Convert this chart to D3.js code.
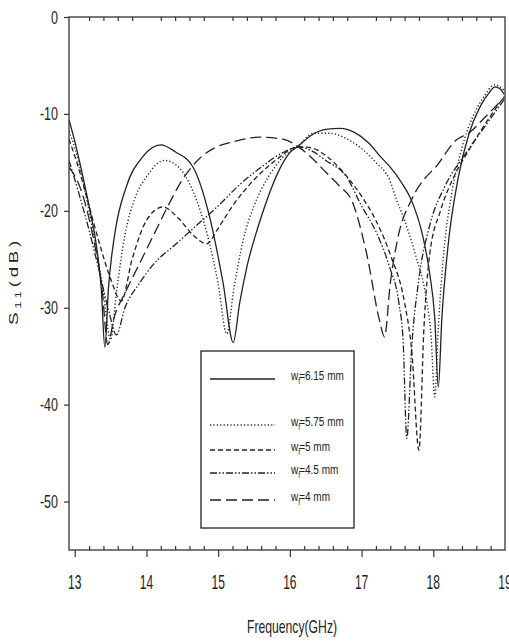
<!DOCTYPE html>
<html>
<head>
<meta charset="utf-8">
<script src="https://cdn.jsdelivr.net/npm/d3@7"></script>
<style>
  body { margin: 0; background: #fff; }
  text { font-family: "Liberation Sans", Arial, sans-serif; fill: #222; }
</style>
</head>
<body>
<div id="chart"></div>
<script>
// S11 curves, one frequency list + one dB list per curve
const freq615 = [12.92, 13.0, 13.1, 13.2, 13.3, 13.37, 13.42, 13.47, 13.56, 13.72, 13.95, 14.2, 14.4, 14.65, 14.88, 15.07, 15.21, 15.3, 15.4, 15.55, 15.68, 15.85, 16.0, 16.12, 16.3, 16.5, 16.7, 16.9, 17.1, 17.25, 17.4, 17.55, 17.7, 17.85, 17.95, 18.02, 18.07, 18.12, 18.2, 18.35, 18.5, 18.65, 18.78, 18.86, 18.93, 18.99];
const s11_615 = [-10.6, -12.8, -16.0, -19.5, -23.5, -28.0, -34.1, -28.0, -22.3, -17.5, -14.4, -13.2, -13.9, -15.5, -20.6, -27.5, -33.6, -29.5, -25.8, -21.8, -18.9, -15.8, -14.0, -13.3, -12.2, -11.6, -11.5, -11.9, -13.0, -14.3, -15.5, -17.0, -19.0, -22.5, -26.5, -31.0, -38.2, -31.0, -24.0, -16.5, -12.0, -9.3, -7.8, -7.2, -7.4, -8.0];

const freq575 = [12.92, 13.0, 13.1, 13.2, 13.3, 13.4, 13.5, 13.58, 13.7, 13.85, 14.0, 14.25, 14.45, 14.65, 14.85, 15.0, 15.12, 15.22, 15.35, 15.5, 15.7, 15.9, 16.12, 16.33, 16.56, 16.8, 17.02, 17.2, 17.39, 17.49, 17.6, 17.75, 17.9, 17.97, 18.02, 18.07, 18.15, 18.25, 18.4, 18.55, 18.7, 18.85, 18.93, 18.99];
const s11_575 = [-11.8, -13.5, -16.5, -20.0, -24.0, -28.5, -33.3, -28.5, -22.5, -18.5, -16.5, -14.8, -15.5, -18.0, -22.5, -27.5, -32.7, -28.0, -23.0, -19.5, -16.5, -14.5, -13.3, -12.0, -12.0, -12.6, -13.7, -15.0, -16.8, -18.9, -21.0, -24.5, -29.0, -33.0, -39.2, -32.0, -24.0, -18.5, -13.5, -10.3, -8.3, -7.0, -7.2, -7.6];

const freq5 = [12.92, 13.05, 13.2, 13.35, 13.5, 13.65, 13.8, 14.0, 14.23, 14.45, 14.65, 14.84, 15.0, 15.2, 15.5, 15.8, 16.12, 16.3, 16.5, 16.8, 17.0, 17.2, 17.4, 17.6, 17.7, 17.8, 17.87, 17.95, 18.1, 18.3, 18.5, 18.7, 18.99];
const s11_5 = [-12.6, -15.5, -19.5, -23.5, -27.0, -29.3, -25.0, -21.0, -19.6, -20.8, -22.5, -23.4, -21.8, -19.5, -16.8, -14.8, -13.4, -13.5, -14.3, -16.5, -18.5, -21.0, -24.5, -29.5, -34.5, -44.7, -32.0, -24.5, -20.0, -16.3, -13.7, -11.3, -8.2];

const freq45 = [12.92, 13.05, 13.2, 13.35, 13.48, 13.58, 13.7, 13.9, 14.1, 14.4, 14.7, 15.0, 15.3, 15.6, 15.9, 16.12, 16.3, 16.5, 16.79, 17.0, 17.21, 17.39, 17.52, 17.58, 17.63, 17.7, 17.8, 17.95, 18.16, 18.42, 18.7, 18.99];
const s11_45 = [-14.8, -18.0, -22.0, -26.5, -30.5, -32.8, -30.0, -27.5, -25.5, -23.5, -21.5, -19.5, -17.3, -15.5, -14.0, -13.4, -13.8, -14.8, -16.5, -19.5, -22.3, -25.8, -29.5, -33.5, -43.5, -34.0, -27.0, -21.5, -17.5, -14.4, -11.5, -8.5];

const freq4 = [12.92, 13.09, 13.25, 13.38, 13.46, 13.55, 13.7, 13.9, 14.1, 14.3, 14.5, 14.74, 14.95, 15.2, 15.58, 15.9, 16.12, 16.3, 16.5, 16.7, 16.86, 17.07, 17.25, 17.32, 17.4, 17.5, 17.7, 17.9, 18.02, 18.32, 18.51, 18.7, 18.99];
const s11_4 = [-15.5, -17.9, -22.5, -28.0, -33.8, -31.0, -28.5, -25.5, -22.5, -19.5, -16.8, -14.6, -13.5, -12.9, -12.4, -12.6, -13.4, -14.5, -16.0, -17.5, -18.9, -24.4, -31.3, -33.0, -27.5, -23.0, -18.8, -16.5, -15.6, -12.7, -11.9, -10.5, -8.3];

const legendNums = ["=6.15 mm", "=5.75 mm", "=5 mm", "=4.5 mm", "=4 mm"];
const xTicks = [13, 14, 15, 16, 17, 18, 19];
const yTicks = [0, -10, -20, -30, -40, -50];

// curve styles, same order as the legend
const series = [
  { f: freq615, s: s11_615, dash: null, w: 1.3 },
  { f: freq575, s: s11_575, dash: "1.2,2.2", w: 1.4 },
  { f: freq5, s: s11_5, dash: "5,3", w: 1.3 },
  { f: freq45, s: s11_45, dash: "7,2,1.5,2,1.5,2", w: 1.3 },
  { f: freq4, s: s11_4, dash: "11,5", w: 1.3 }
];

const W = 509, H = 642;
const plotL = 69, plotR = 505, plotT = 17, plotB = 550;

const svg = d3.select("#chart").append("svg")
  .attr("width", W)
  .attr("height", H);

const x = d3.scaleLinear().domain([12.92, 19]).range([plotL, plotR]);
const y = d3.scaleLinear().domain([-55, 0]).range([plotB, plotT]);

const line = d3.line()
  .x(d => x(d[0]))
  .y(d => y(d[1]))
  .curve(d3.curveMonotoneX);

// clip the curves to the frame
svg.append("clipPath").attr("id", "clip")
  .append("rect")
  .attr("x", plotL).attr("y", plotT)
  .attr("width", plotR - plotL).attr("height", plotB - plotT);

const curves = svg.append("g").attr("clip-path", "url(#clip)");
series.forEach(sr => {
  curves.append("path")
    .datum(d3.zip(sr.f, sr.s))
    .attr("d", line)
    .attr("fill", "none")
    .attr("stroke", "#222")
    .attr("stroke-width", sr.w)
    .attr("stroke-dasharray", sr.dash);
});

// minor ticks every 0.2 GHz (not on the integers)
const minor = d3.range(13.2, 19, 0.2).filter(v => Math.abs(v - Math.round(v)) > 0.05);

function styleAxis(g) {
  g.select(".domain").remove();
  g.selectAll("line").attr("stroke", "#333").attr("stroke-width", 1.2);
}

// bottom: major ticks outside, minor ticks inside
svg.append("g")
  .attr("transform", `translate(0,${plotB})`)
  .call(d3.axisBottom(x).tickValues(xTicks.slice(0, -1)).tickSize(7).tickFormat(""))
  .call(styleAxis);
svg.append("g")
  .attr("transform", `translate(0,${plotB})`)
  .call(d3.axisTop(x).tickValues(minor).tickSize(4).tickFormat(""))
  .call(styleAxis);
// top: minor ticks inside
svg.append("g")
  .attr("transform", `translate(0,${plotT})`)
  .call(d3.axisBottom(x).tickValues(minor).tickSize(4).tickFormat(""))
  .call(styleAxis);
// left ticks outside
svg.append("g")
  .attr("transform", `translate(${plotL},0)`)
  .call(d3.axisLeft(y).tickValues(yTicks).tickSize(5).tickFormat(""))
  .call(styleAxis);

// frame
svg.append("rect")
  .attr("x", plotL).attr("y", plotT)
  .attr("width", plotR - plotL).attr("height", plotB - plotT)
  .attr("fill", "none")
  .attr("stroke", "#333")
  .attr("stroke-width", 1.3);

// tick labels, drawn tall and narrow like the picture
svg.selectAll("text.xl")
  .data(xTicks)
  .join("text")
  .attr("class", "xl")
  .attr("transform", d => `translate(${x(d)},589) scale(1,1.65)`)
  .attr("text-anchor", "middle")
  .attr("font-size", 12)
  .text(d => d);

svg.selectAll("text.yl")
  .data(yTicks)
  .join("text")
  .attr("class", "yl")
  .attr("transform", d => `translate(58,${y(d) + 6.5}) scale(1,1.5)`)
  .attr("text-anchor", "end")
  .attr("font-size", 12.5)
  .text(d => d);

// axis titles
svg.append("text")
  .attr("transform", "translate(292,633) scale(1,1.5)")
  .attr("text-anchor", "middle")
  .attr("font-size", 12.2)
  .text("Frequency(GHz)");

const yt = svg.append("text")
  .attr("transform", "translate(13,281) rotate(-90) scale(1.5,1)")
  .attr("y", 5)
  .attr("text-anchor", "middle")
  .attr("font-size", 12.5)
  .attr("letter-spacing", 2.5);
yt.append("tspan").text("S");
yt.append("tspan").attr("font-size", 9).attr("dy", 3).text("11");
yt.append("tspan").attr("dy", -3).text("(dB)");

// legend
const lg = svg.append("g");
lg.append("rect")
  .attr("x", 201).attr("y", 351)
  .attr("width", 153).attr("height", 177)
  .attr("fill", "#fff")
  .attr("stroke", "#222")
  .attr("stroke-width", 1.3);

const legendY = [379, 425, 450, 473, 500];
series.forEach((sr, i) => {
  lg.append("line")
    .attr("x1", 210).attr("x2", 275)
    .attr("y1", legendY[i]).attr("y2", legendY[i])
    .attr("stroke", "#222")
    .attr("stroke-width", sr.w)
    .attr("stroke-dasharray", sr.dash);
  const t = lg.append("text")
    .attr("transform", `translate(291,${legendY[i] + 1}) scale(1,1.3)`)
    .attr("font-size", 10);
  t.append("tspan").text("w");
  t.append("tspan").attr("font-size", 7).attr("dy", 3).text("f");
  t.append("tspan").attr("dy", -3).attr("dx", -1).text(legendNums[i]);
});
</script>
</body>
</html>
